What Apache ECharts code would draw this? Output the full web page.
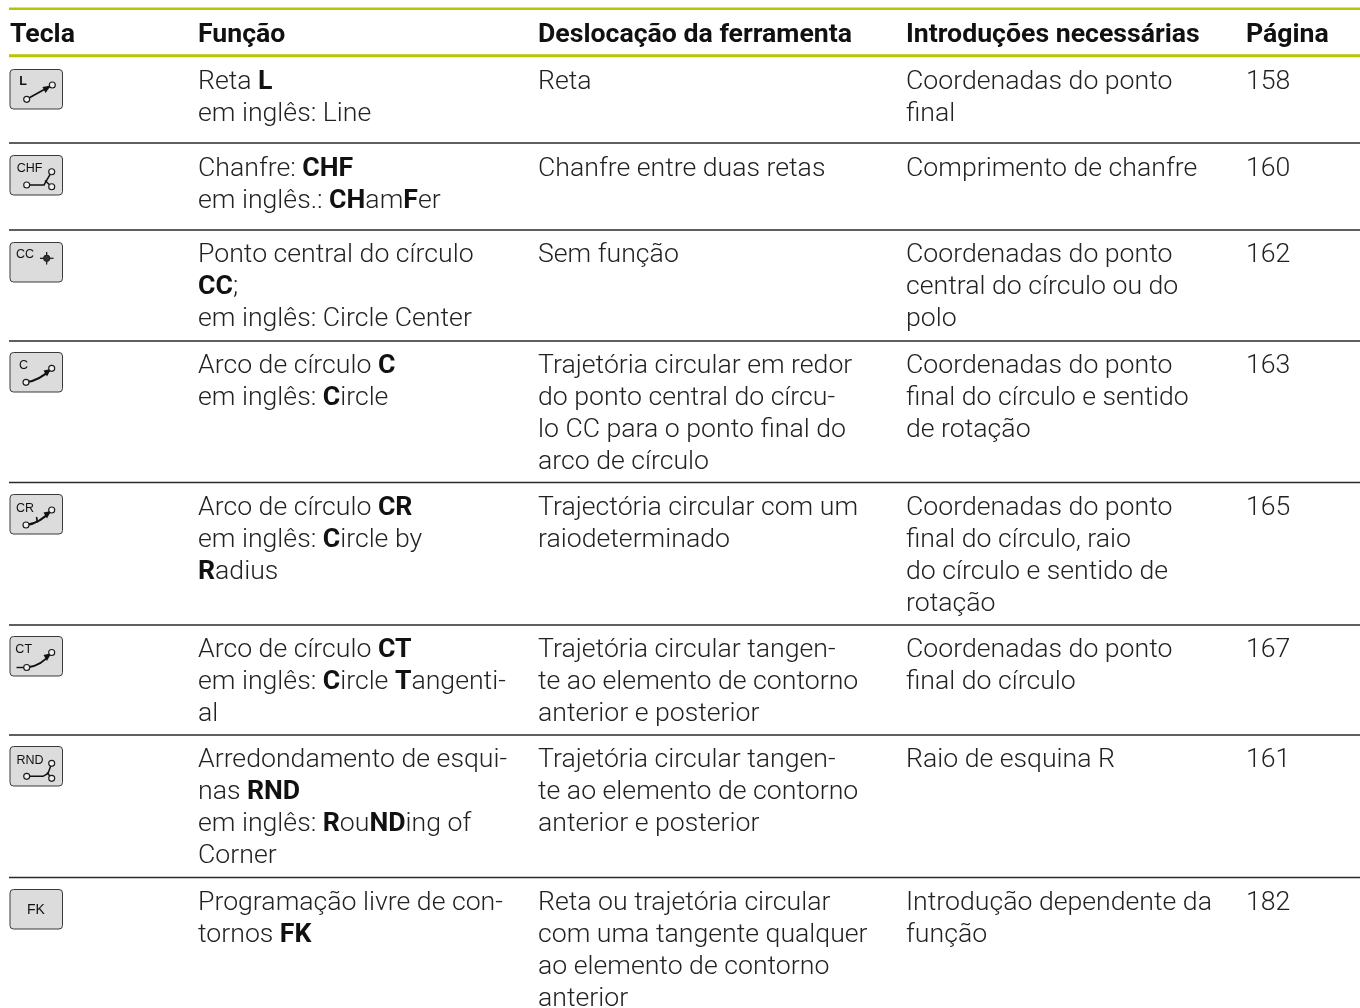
<!DOCTYPE html>
<html><head><meta charset="utf-8">
<style>html,body{margin:0;padding:0;background:#fff}#c{width:1360px;height:1008px}</style>
<script src="https://cdn.jsdelivr.net/npm/echarts@6/dist/echarts.min.js"></script>
</head><body><div id="c"></div>
<script>
const headers = ["Tecla","Função","Deslocação da ferramenta","Introduções necessárias","Página"];
const keyLabels = ["L","CHF","CC","C","CR","CT","RND","FK"];
const funcoes = [
 ["Reta {b|L}","em inglês: Line"],
 ["Chanfre: {b|CHF}","em inglês.: {b|CH}am{b|F}er"],
 ["Ponto central do círculo","{b|CC};","em inglês: Circle Center"],
 ["Arco de círculo {b|C}","em inglês: {b|C}ircle"],
 ["Arco de círculo {b|CR}","em inglês: {b|C}ircle by","{b|R}adius"],
 ["Arco de círculo {b|CT}","em inglês: {b|C}ircle {b|T}angenti-","al"],
 ["Arredondamento de esqui-","nas {b|RND}","em inglês: {b|R}ou{b|ND}ing of","Corner"],
 ["Programação livre de con-","tornos {b|FK}"]
];
const deslocacoes = [
 ["Reta"],
 ["Chanfre entre duas retas"],
 ["Sem função"],
 ["Trajetória circular em redor","do ponto central do círcu-","lo CC para o ponto final do","arco de círculo"],
 ["Trajectória circular com um","raiodeterminado"],
 ["Trajetória circular tangen-","te ao elemento de contorno","anterior e posterior"],
 ["Trajetória circular tangen-","te ao elemento de contorno","anterior e posterior"],
 ["Reta ou trajetória circular","com uma tangente qualquer","ao elemento de contorno","anterior"]
];
const introducoes = [
 ["Coordenadas do ponto","final"],
 ["Comprimento de chanfre"],
 ["Coordenadas do ponto","central do círculo ou do","polo"],
 ["Coordenadas do ponto","final do círculo e sentido","de rotação"],
 ["Coordenadas do ponto","final do círculo, raio","do círculo e sentido de","rotação"],
 ["Coordenadas do ponto","final do círculo"],
 ["Raio de esquina R"],
 ["Introdução dependente da","função"]
];
const paginas = ["158","160","162","163","165","167","161","182"];

// layout (page pixels)
const colX = [10,198,538,906,1246];
const rowY = [82,169,255,366,508,650,760,903];
const keyTop = [69.5,155.5,242.5,352.5,494.5,636.5,746.5,889.5];
const thinRules = [143,230,341,482.5,625,735,877.5];
const greenRules = [8.7,55.8];
const lineH = 32, font = 'Roboto', size = 26.67, headY = 35;

const cells = [];
headers.forEach((t,c)=>cells.push({x:colX[c],y:headY,t:t,head:true}));
[funcoes,deslocacoes,introducoes].forEach((col,c)=>col.forEach((lines,r)=>lines.forEach((t,i)=>
  cells.push({x:colX[c+1],y:rowY[r]+i*lineH,t:t}))));
paginas.forEach((t,r)=>cells.push({x:colX[4],y:rowY[r],t:t}));

const rules = greenRules.map(y=>[y,1]).concat(thinRules.map(y=>[y,0]));
const KEY_W = 52.5, KEY_H = 39.5;
const circ = (x,y)=>({type:'circle',shape:{cx:x,cy:y,r:3},style:{fill:'#f0f0f0',stroke:'#1a1a1a',lineWidth:1.15},z2:3});
function poly(pts,w){return {type:'polyline',shape:{points:pts},style:{fill:'none',stroke:'#111',lineWidth:w||1.5},z2:2};}
function curve(x1,y1,cx,cy,x2,y2,w){return {type:'bezierCurve',shape:{x1,y1,x2,y2,cpx1:cx,cpy1:cy},style:{fill:'none',stroke:'#111',lineWidth:w||2},z2:2};}
function head(pts){return {type:'polygon',shape:{points:pts},style:{fill:'#111',stroke:'none'},z2:2};}
const glyphs = {
 L:{lx:13,ly:12,bold:true,draw:()=>[poly([[16.7,29.8],[42.3,15.5]],1.6),head([[41,16],[32.5,17.5],[35.5,23.5]]),circ(16.7,29.8),circ(42.3,15.5)]},
 CHF:{lx:19.5,ly:13,draw:()=>[poly([[16.7,29.5],[34,29.5],[41.7,16.2]]),poly([[35,25],[41.7,31.2]]),circ(41.7,16.2),circ(41.7,31.2),circ(16.7,29.5)]},
 CC:{lx:15,ly:12.5,draw:()=>[poly([[30,15.8],[43.5,15.8]],1.2),poly([[36.7,9.5],[36.7,22]],1.2),{type:'circle',shape:{cx:36.7,cy:15.8,r:3.2},style:{fill:'#333',stroke:'#111',lineWidth:.8},z2:2}]},
 C:{lx:13.5,ly:13.5,draw:()=>[curve(16,29.8,30,28,41.7,15.8),head([[41,16.5],[33.5,18],[37,24]]),circ(16,29.8),circ(41.7,15.8)]},
 CR:{lx:15,ly:14,draw:()=>[curve(16,30.5,30,29,41.7,15.5),head([[41,16.5],[33.5,18],[37,24]]),poly([[26.5,22.5],[27.5,28]],1.6),circ(16,30.5),circ(41.7,15.5)]},
 CT:{lx:13.7,ly:13.5,draw:()=>[poly([[6.5,31],[16.7,31]],1.4),curve(16.7,31,31,30,41.7,16),head([[41,16.8],[33.5,18.5],[37,24.5]]),circ(16.7,31),circ(41.7,16)]},
 RND:{lx:20,ly:14,draw:()=>[poly([[16.7,29.8],[33,29.8],[38,27],[41.7,16.8]]),poly([[37,26],[41.7,31.8]]),circ(41.7,16.8),circ(41.7,31.8),circ(16.7,29.8)]},
 FK:{lx:26,ly:20.5,draw:()=>[]}
};

const chart = echarts.init(document.getElementById('c'),null,{renderer:'canvas'});
chart.setOption({
 animation:false,
 backgroundColor:'#fff',
 grid:{left:0,right:0,top:0,bottom:0},
 xAxis:{type:'value',min:0,max:1360,show:false},
 yAxis:{type:'value',min:0,max:1008,inverse:true,show:false},
 tooltip:{show:false},
 series:[
  {type:'custom',name:'regras',silent:true,clip:false,coordinateSystem:'cartesian2d',
   data:rules.map((r,i)=>[9,r[0],i]),encode:{x:0,y:1},
   renderItem(p,api){
    const r=rules[api.value(2)],a=api.coord([9,r[0]]),b=api.coord([1360,r[0]]);
    return {type:'line',shape:{x1:a[0],y1:a[1],x2:b[0],y2:b[1]},style:{stroke:r[1]?'#b8c400':'#2a2a2a',lineWidth:r[1]?(r[0]<20?2.4:3):1.3}};
   }},
  {type:'custom',name:'teclas',silent:true,clip:false,coordinateSystem:'cartesian2d',
   data:keyLabels.map((k,i)=>[10,keyTop[i],i]),encode:{x:0,y:1},
   renderItem(p,api){
    const i=api.value(2),k=keyLabels[i],g=glyphs[k],c=api.coord([api.value(0),api.value(1)]);
    return {type:'group',x:c[0],y:c[1],children:[
     {type:'rect',shape:{x:0,y:0,width:KEY_W,height:KEY_H,r:3.5},style:{fill:'#dcdcdc',stroke:'#3a3a3a',lineWidth:1}},
     {type:'text',style:{text:k,x:g.lx,y:g.ly,align:'center',verticalAlign:'middle',fill:'#111',
       fontFamily:'Liberation Sans',fontSize:k==='FK'?14:12.5,fontWeight:g.bold?'bold':'normal'},z2:4}
    ].concat(g.draw())};
   }},
  {type:'custom',name:'texto',silent:true,clip:false,coordinateSystem:'cartesian2d',
   data:cells.map((c,i)=>[c.x,c.y,i]),encode:{x:0,y:1},
   renderItem(p,api){
    const c=cells[api.value(2)],pt=api.coord([c.x,c.y]);
    return {type:'text',style:{text:c.t,x:pt[0],y:pt[1],align:'left',verticalAlign:'middle',
      fill:c.head?'#111':'#222',fontFamily:font,fontSize:size,fontWeight:c.head?700:300,
      rich:{b:{fontFamily:font,fontSize:size,fontWeight:700,fill:'#111',verticalAlign:'middle'}}}};
   }}
 ]
});
</script></body></html>
